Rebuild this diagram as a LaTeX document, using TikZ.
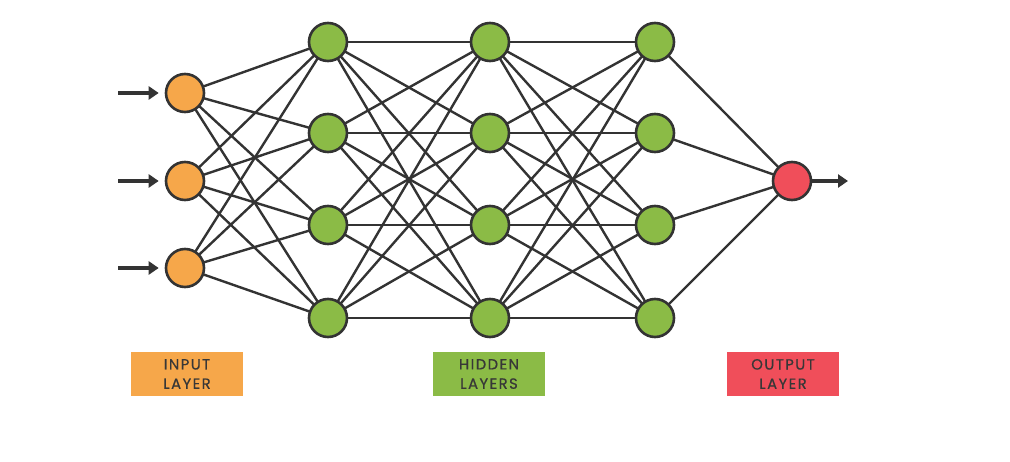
\documentclass[tikz,border=0pt]{standalone}
\usepackage{fontspec}
\newfontfamily\labelfont[LetterSpace=10,FakeBold=0.6]{Poppins}
\usepackage{tikz}
\usetikzlibrary{arrows.meta,positioning,backgrounds}
\definecolor{nnorange}{RGB}{246,167,74}
\definecolor{nngreen}{RGB}{139,187,70}
\definecolor{nnred}{RGB}{240,78,90}
\definecolor{nnline}{RGB}{51,51,51}
\definecolor{nntext}{RGB}{55,55,55}

\begin{document}
\begin{tikzpicture}[x=0.02cm, y=-0.02cm,
    neuron/.style={circle, draw=nnline, line width=2.6*0.02cm, minimum size=38*0.02cm, inner sep=0pt},
    link/.style={draw=nnline, line width=2.4*0.02cm},
    feed/.style={draw=nnline, line width=4.2*0.02cm, -{Triangle[length=10*0.02cm, width=13*0.02cm]}},
    tag/.style={minimum width=112*0.02cm, minimum height=44*0.02cm, inner sep=0pt, align=center,
      font=\labelfont\fontsize{8.4pt}{11pt}\selectfont, text=nntext}]
  \useasboundingbox (0,0) rectangle (1010,462);

  % Input layer
  \node[neuron, fill=nnorange] (in1) at (185,93) {};
  \node[neuron, fill=nnorange] (in2) at (185,181) {};
  \node[neuron, fill=nnorange] (in3) at (185,268) {};

  % Hidden layers
  \foreach \y [count=\i] in {42,133,225,318} {
    \node[neuron, fill=nngreen] (ha\i) at (328,\y) {};
    \node[neuron, fill=nngreen] (hb\i) at (490,\y) {};
    \node[neuron, fill=nngreen] (hc\i) at (655,\y) {};
  }

  % Output layer
  \node[neuron, fill=nnred] (out) at (792,181) {};

  % Connections (behind the neurons)
  \begin{scope}[on background layer]
    \foreach \i in {1,2,3}
      \foreach \j in {1,...,4}
        \draw[link] (in\i.center) -- (ha\j.center);
    \foreach \i in {1,...,4}
      \foreach \j in {1,...,4} {
        \draw[link] (ha\i.center) -- (hb\j.center);
        \draw[link] (hb\i.center) -- (hc\j.center);
      }
    \foreach \i in {1,...,4}
      \draw[link] (hc\i.center) -- (out.center);
  \end{scope}

  % Arrows in and out
  \coordinate (src1) at (118,93);
  \coordinate (src2) at (118,181);
  \coordinate (src3) at (118,268);
  \coordinate (sink) at (848,181);
  \foreach \i in {1,2,3}
    \draw[feed, shorten >=6*0.02cm] (src\i) -- (in\i.west);
  \draw[feed] (out.east) -- (sink);

  % Labels
  \node[tag, fill=nnorange] (inlabel) at (187,374) {INPUT\\LAYER};
  \node[tag, fill=nngreen] (hidlabel) at (489,374) {HIDDEN\\LAYERS};
  \node[tag, fill=nnred] (outlabel) at (783,374) {OUTPUT\\LAYER};
\end{tikzpicture}
\end{document}
